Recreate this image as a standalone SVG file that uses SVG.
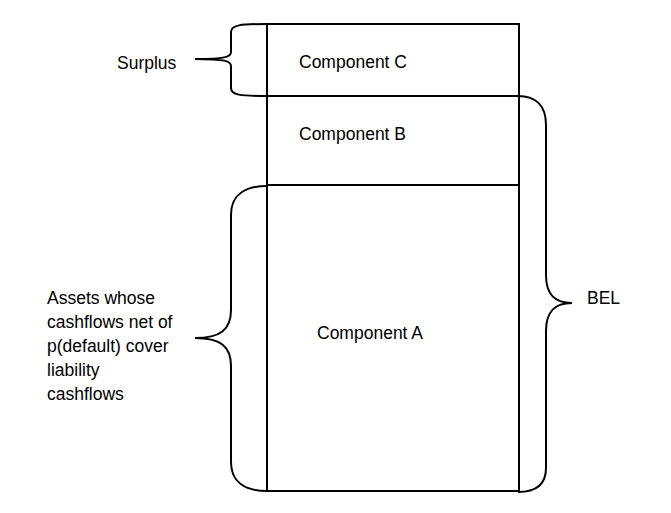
<svg xmlns="http://www.w3.org/2000/svg" width="671" height="513" viewBox="0 0 671 513">
<style>
.ln{fill:none;stroke:#000;stroke-width:2}
.br{fill:none;stroke:#000;stroke-width:2}
.t{font-family:"Liberation Sans",Arial,sans-serif;font-size:17.5px;fill:#000}
</style>
<rect width="671" height="513" fill="#fff"/>
<g id="box">
<rect class="ln" x="267" y="24" width="252" height="467"/>
<line class="ln" x1="267" y1="96" x2="519" y2="96"/>
<line class="ln" x1="267" y1="185" x2="519" y2="185"/>
</g>
<g id="compC"><text class="t" x="299" y="68">Component C</text></g>
<g id="compB"><text class="t" x="299" y="140">Component B</text></g>
<g id="compA"><text class="t" x="317" y="339">Component A</text></g>
<g id="connectors">
<path class="br" d="M267,24 C240,24 231,25 231,32 L231,52 C231,57 225,59 195,59 C225,59 231,61 231,66 L231,88 C231,95 240,96 267,96"/>
<path class="br" d="M518,96 C535,96 546,105 546,125 L546,275 C546,295 555,303 572,303 C555,303 546,311 546,331 L546,468 C546,485 535,492 518,492"/>
<path class="br" d="M267,186 C245,186 231,195 231,215 L231,310 C231,330 220,338 195,338 C220,338 231,346 231,366 L231,462 C231,482 245,491 267,491"/>
</g>
<g id="surplus"><text class="t" x="117" y="69">Surplus</text></g>
<g id="bel"><text class="t" x="587" y="304">BEL</text></g>
<g id="assets">
<text class="t" x="47" y="304">Assets whose</text>
<text class="t" x="47" y="328">cashflows net of</text>
<text class="t" x="47" y="352">p(default) cover</text>
<text class="t" x="47" y="376">liability</text>
<text class="t" x="47" y="400">cashflows</text>
</g>
</svg>
